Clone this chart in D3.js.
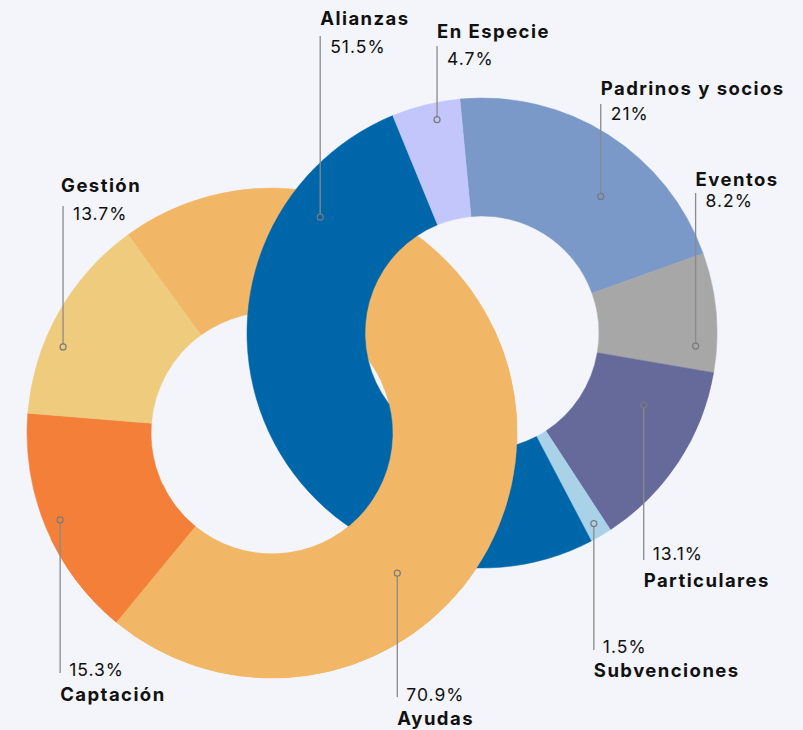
<!DOCTYPE html>
<html>
<head>
<meta charset="utf-8">
<script src="https://cdn.jsdelivr.net/npm/d3@7"></script>
<style>
  body { margin: 0; background: #f4f5fa; }
  text { font-family: Inter, "Noto Sans", sans-serif; fill: #111; }
</style>
</head>
<body>
<svg id="chart"></svg>
<script>
// left ring: uso de fondos
const leftNames = ["Ayudas", "Captación", "Gestión"];
const leftValues = [70.9, 15.3, 13.7];
const leftColors = ["#f2b766", "#f37f38", "#eecb7d"];

// right ring: origen de fondos
const rightNames = ["Padrinos y socios", "Eventos", "Particulares", "Subvenciones", "Alianzas", "En Especie"];
const rightValues = [21, 8.2, 13.1, 1.5, 51.5, 4.7];
const rightColors = ["#7a98c8", "#a7a7a7", "#666a9a", "#a9d2e8", "#0066aa", "#c2c6fb"];

const width = 803, height = 730;
const rad = d => d * Math.PI / 180;

const ringA = { cx: 272, cy: 433, outer: 245, inner: 121, start: -36 };
const ringB = { cx: 482, cy: 333, outer: 235, inner: 117, start: -5.4 };

// where each leader line sits (angle in deg, radius px) and its text rows
const labelLayout = {
  "Alianzas":          { ring: ringB, ang: -54.4, r: 199, up: true,  lineEnd: 36,  nameY: 25,  pctY: 53 },
  "En Especie":        { ring: ringB, ang: -11.9, r: 218, up: true,  lineEnd: 46,  nameY: 38,  pctY: 65 },
  "Padrinos y socios": { ring: ringB, ang: 41,    r: 181, up: true,  lineEnd: 104, nameY: 95,  pctY: 120 },
  "Eventos":           { ring: ringB, ang: 93.5,  r: 214, up: true,  lineEnd: 193, nameY: 186, pctY: 207 },
  "Gestión":           { ring: ringA, ang: -67.6, r: 226, up: true,  lineEnd: 206, nameY: 192, pctY: 220 },
  "Particulares":      { ring: ringB, ang: 114,   r: 177, up: false, lineEnd: 560, nameY: 587, pctY: 560 },
  "Subvenciones":      { ring: ringB, ang: 149.6, r: 221, up: false, lineEnd: 650, nameY: 677, pctY: 653 },
  "Captación":         { ring: ringA, ang: 247.7, r: 229, up: false, lineEnd: 673, nameY: 701, pctY: 676 },
  "Ayudas":            { ring: ringA, ang: 138.2, r: 188, up: false, lineEnd: 697, nameY: 725, pctY: 701 }
};

const svg = d3.select("#chart")
  .attr("width", width)
  .attr("height", height)
  .style("background", "#f4f5fa");

function slices(names, values, colors, ring) {
  const pie = d3.pie().sort(null).value(d => d.value)
    .startAngle(rad(ring.start)).endAngle(rad(ring.start) + 2 * Math.PI);
  return pie(names.map((n, i) => ({ name: n, value: values[i], color: colors[i] })));
}

function drawRing(parent, arcs, ring) {
  const arc = d3.arc().innerRadius(ring.inner).outerRadius(ring.outer);
  parent.append("g")
    .attr("transform", `translate(${ring.cx},${ring.cy})`)
    .selectAll("path")
    .data(arcs)
    .join("path")
      .attr("d", arc)
      .attr("fill", d => d.data.color)
      .attr("stroke", d => d.data.color)
      .attr("stroke-width", 0.5);
}

const arcsA = slices(leftNames, leftValues, leftColors, ringA);
const arcsB = slices(rightNames, rightValues, rightColors, ringB);

// half plane below/right of the line joining the centres: there the orange ring is on top
const dx = ringB.cx - ringA.cx, dy = ringB.cy - ringA.cy;
const nx = -dy, ny = dx; // normal pointing down-right
const k = 4, far = 2000;
const p1 = [ringA.cx - k * dx, ringA.cy - k * dy];
const p2 = [ringA.cx + k * dx, ringA.cy + k * dy];
const nl = Math.hypot(nx, ny);
const clipPts = [p1, p2,
  [p2[0] + far * nx / nl, p2[1] + far * ny / nl],
  [p1[0] + far * nx / nl, p1[1] + far * ny / nl]];

svg.append("defs").append("clipPath").attr("id", "lowerHalf")
  .append("polygon").attr("points", clipPts.map(p => p.join(",")).join(" "));

drawRing(svg, arcsA, ringA);
drawRing(svg, arcsB, ringB);
drawRing(svg.append("g").attr("clip-path", "url(#lowerHalf)"), arcsA, ringA);

// labels
const allItems = leftNames.map((n, i) => ({ name: n, value: leftValues[i] }))
  .concat(rightNames.map((n, i) => ({ name: n, value: rightValues[i] })));

svg.append("g").selectAll("g")
  .data(allItems)
  .join("g")
  .each(function(d) {
    const L = labelLayout[d.name];
    const x = L.ring.cx + L.r * Math.sin(rad(L.ang));
    const y = L.ring.cy - L.r * Math.cos(rad(L.ang));
    const g = d3.select(this);
    g.append("line")
      .attr("x1", x).attr("x2", x)
      .attr("y1", L.up ? y - 3 : y + 3)
      .attr("y2", L.lineEnd)
      .attr("stroke", "#8a8a8a")
      .attr("stroke-width", 1.3);
    g.append("circle")
      .attr("cx", x).attr("cy", y).attr("r", 3)
      .attr("fill", "none")
      .attr("stroke", "#7a7a7a")
      .attr("stroke-width", 1.2);
    g.append("text")
      .attr("x", x - (d.name === "Gestión" ? 2 : 0))
      .attr("y", L.nameY)
      .attr("font-size", 18.5)
      .attr("font-weight", 700)
      .attr("letter-spacing", 1.45)
      .text(d.name);
    g.append("text")
      .attr("x", x + (L.up ? 10 : 9))
      .attr("y", L.pctY)
      .attr("font-size", 17.5)
      .attr("letter-spacing", 1)
      .text(d.value + "%");
  });
</script>
</body>
</html>
